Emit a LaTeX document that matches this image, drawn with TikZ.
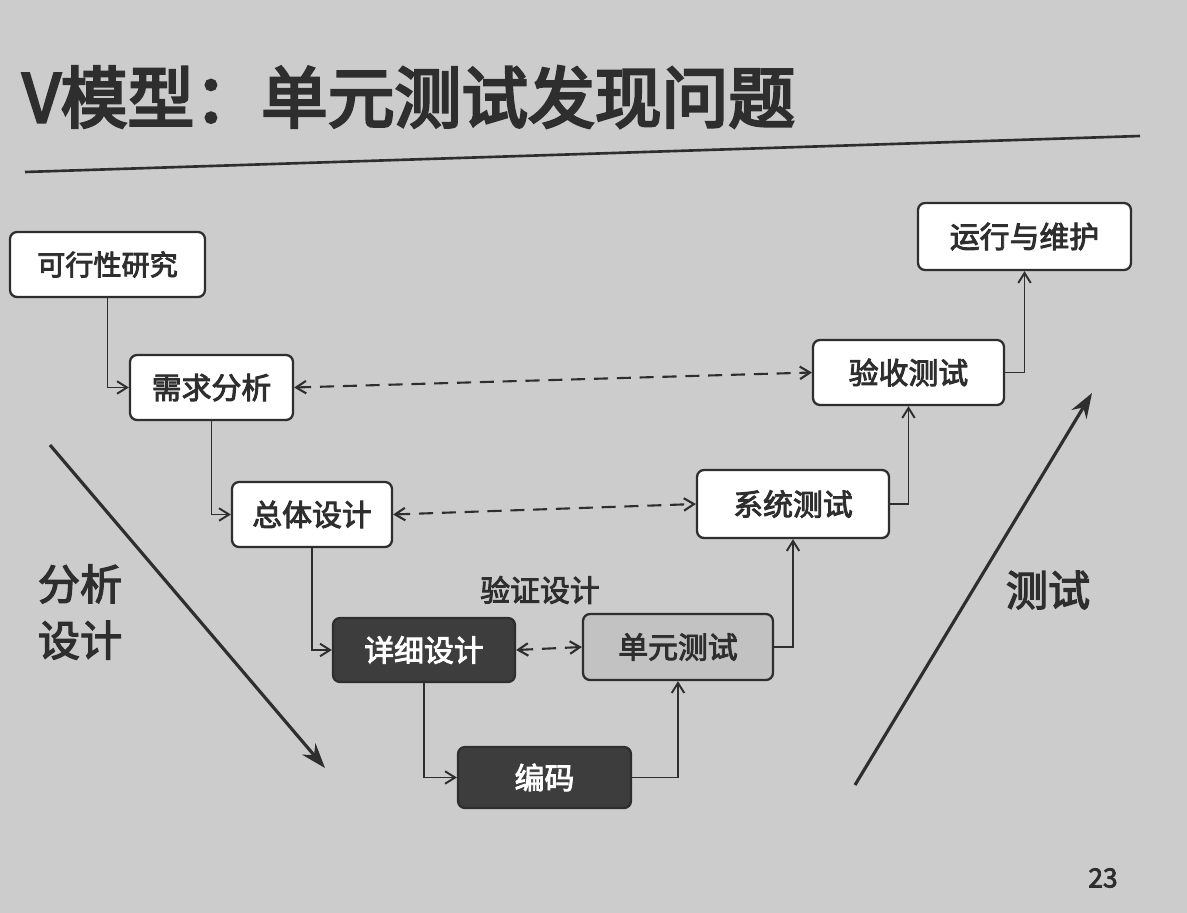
\documentclass[tikz,border=0pt]{standalone}
\usepackage{fontspec}
\setmainfont{Noto Sans CJK SC}
\newfontfamily\cjkbold{Noto Sans CJK SC}[FakeBold=3]
\newfontfamily\cjktitle{Noto Sans CJK SC}[FakeBold=4]
\usetikzlibrary{arrows.meta}
\definecolor{paper}{gray}{0.80}
\definecolor{ink}{gray}{0.18}
\definecolor{darkfill}{gray}{0.24}
\definecolor{unitfill}{gray}{0.76}
\begin{document}
\begin{tikzpicture}[x=0.02cm,y=-0.02cm,
  box/.style={draw=ink,line width=1.3pt,rounded corners=4pt,fill=white,text=ink,font=\cjkbold\fontsize{17}{20}\selectfont,minimum height=1.3cm,inner sep=0pt},
  darkbox/.style={box,fill=darkfill,text=white},
  unitbox/.style={box,fill=unitfill},
  flow/.style={draw=ink,line width=1.1pt,-{Straight Barb[length=2mm,width=2.5mm]}},
  link/.style={draw=ink,line width=1.2pt,dash pattern=on 8pt off 5pt,{Straight Barb[length=2mm,width=2.5mm]}-{Straight Barb[length=2mm,width=2.5mm]}},
  phase/.style={draw=ink,line width=1.8pt,-{Stealth[length=5mm,width=3.5mm]}}]
\fill[paper] (0,0) rectangle (1187,913);
% title
\node[anchor=west,text=ink,font=\cjktitle\fontsize{38}{44}\selectfont,inner sep=0pt] (title) at (22,97) {V模型：单元测试发现问题};
\draw[ink,line width=1.5pt] (25,172) -- (1140,136);
% left branch
\node[box,minimum width=3.9cm,font=\cjkbold\fontsize{16}{19}\selectfont] (feas) at (107.5,264.5) {可行性研究};
\node[box,minimum width=3.26cm] (req) at (211.5,387.5) {需求分析};
\node[box,minimum width=3.2cm] (arch) at (312,514.5) {总体设计};
\node[darkbox,minimum width=3.64cm,minimum height=1.28cm] (detail) at (424,650) {详细设计};
\node[darkbox,minimum width=3.46cm,minimum height=1.22cm] (code) at (544.5,777.5) {编码};
% right branch
\node[unitbox,minimum width=3.8cm,minimum height=1.32cm] (unit) at (678,647) {单元测试};
\node[box,minimum width=3.84cm,minimum height=1.36cm] (sys) at (793,504) {系统测试};
\node[box,minimum width=3.82cm] (acc) at (908.5,372.5) {验收测试};
\node[box,minimum width=4.26cm,minimum height=1.34cm] (ops) at (1024.5,236.5) {运行与维护};
% flow
\draw[flow] (feas.south) |- (req.west);
\draw[flow] (req.south) |- (arch.west);
\draw[flow] (arch.south) |- (detail.west);
\draw[flow] (detail.south) |- (code.west);
\draw[flow] (code.east) -| (unit.south);
\draw[flow] (unit.east) -| (sys.south);
\draw[flow] (sys.east) -| (acc.south);
\draw[flow] (acc.east) -| (ops.south);
% verification links
\draw[link] (req.east) -- (acc.west);
\draw[link] (arch.east) -- (sys.west);
\draw[link] (detail.east) -- (unit.west);
\node[text=ink,font=\cjkbold\fontsize{17}{20}\selectfont] (verify) at (540,590) {验证设计};
% phases
\coordinate (downA) at (50,445);
\coordinate (downB) at (325,768);
\coordinate (upA) at (855,785);
\coordinate (upB) at (1092,393);
\draw[phase] (downA) -- (downB);
\draw[phase] (upA) -- (upB);
\node[text=ink,align=center,font=\cjkbold\fontsize{24}{32}\selectfont] (analysis) at (80,612) {分析\\设计};
\node[text=ink,font=\cjkbold\fontsize{24}{28}\selectfont] (testing) at (1048,590) {测试};
\node[text=ink,font=\cjkbold\fontsize{15}{18}\selectfont] (page) at (1103,878) {23};
\end{tikzpicture}
\end{document}
